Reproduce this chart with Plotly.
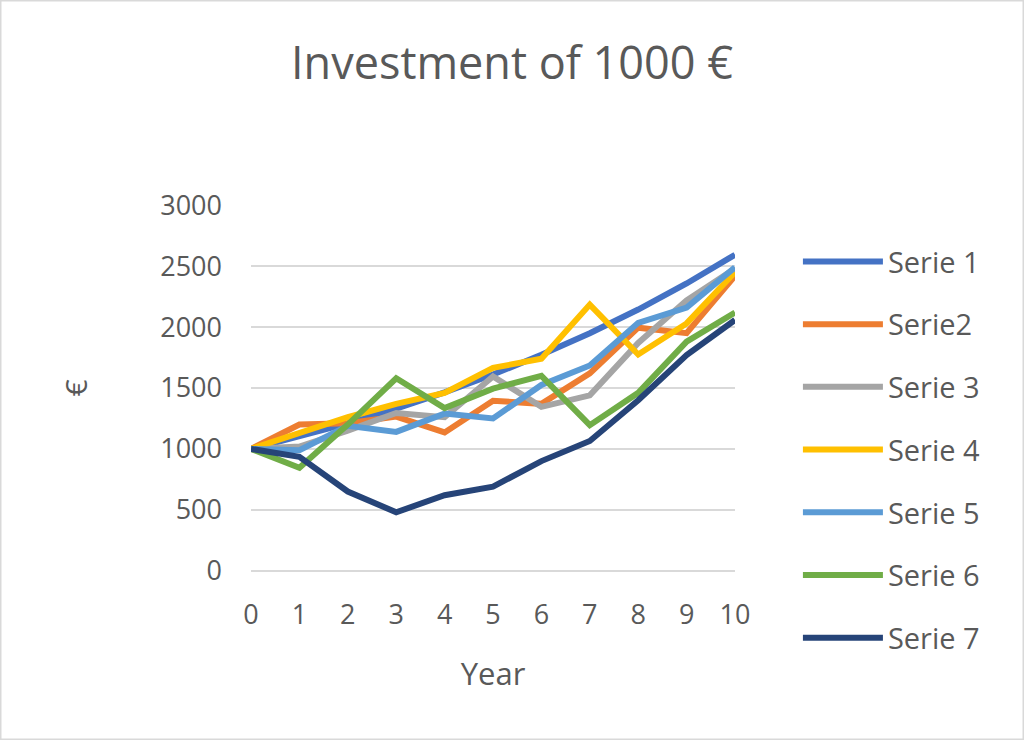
import plotly.graph_objects as go

years = [0, 1, 2, 3, 4, 5, 6, 7, 8, 9, 10]

serie1 = [1000, 1100, 1210, 1331, 1464, 1611, 1772, 1949, 2144, 2358, 2594]
serie2 = [1000, 1200, 1210, 1265, 1135, 1395, 1370, 1620, 1995, 1950, 2420]
serie3 = [1000, 1020, 1150, 1295, 1260, 1595, 1345, 1440, 1870, 2220, 2480]
serie4 = [1000, 1130, 1260, 1370, 1460, 1665, 1740, 2185, 1775, 2030, 2450]
serie5 = [1000, 990, 1190, 1140, 1290, 1250, 1525, 1685, 2035, 2160, 2490]
serie6 = [1000, 845, 1200, 1580, 1335, 1495, 1600, 1195, 1460, 1880, 2120]
serie7 = [1000, 935, 650, 480, 620, 690, 900, 1065, 1400, 1770, 2058]

names = ["Serie 1", "Serie2", "Serie 3", "Serie 4", "Serie 5", "Serie 6", "Serie 7"]
colors = ["#4472C4", "#ED7D31", "#A5A5A5", "#FFC000", "#5B9BD5", "#70AD47", "#264478"]
series = [serie1, serie2, serie3, serie4, serie5, serie6, serie7]

FONT = "Open Sans"
TXT = "#595959"

fig = go.Figure()
for i, (nm, col, vals) in enumerate(zip(names, colors, series)):
    fig.add_trace(go.Scatter(
        x=years, y=vals, mode="lines", name=nm,
        line=dict(color=col, width=6),
        legendgroup="g%d" % i,
    ))

fig.update_layout(
    width=1024, height=740,
    margin=dict(l=251, r=289, t=205, b=169),
    paper_bgcolor="white", plot_bgcolor="white",
    font=dict(family=FONT, color=TXT, size=27),
    title=dict(text="Investment of 1000 €", x=0.5, xanchor="center",
               y=0.915, yanchor="middle", yref="container",
               font=dict(family=FONT, size=45, color=TXT)),
    showlegend=True,
    legend=dict(x=1.13, xanchor="left", y=0.915, yanchor="top",
                font=dict(family=FONT, size=29, color=TXT),
                tracegroupgap=22, itemwidth=80, maxheight=700,
                bgcolor="rgba(0,0,0,0)"),
    xaxis=dict(range=[0, 10], tickmode="array", tickvals=years,
               showgrid=False, zeroline=False, showline=False,
               ticks="", ticklabelstandoff=25,
               tickfont=dict(size=27, color=TXT),
               title=dict(text="Year", font=dict(size=31, color=TXT), standoff=32)),
    yaxis=dict(range=[-2, 3002], tickvals=[0, 500, 1000, 1500, 2000, 2500, 3000],
               showgrid=True, gridcolor="#D9D9D9", gridwidth=2,
               zeroline=True, zerolinecolor="#D9D9D9", zerolinewidth=2,
               showline=False, ticks="",
               ticklabelstandoff=28,
               tickfont=dict(size=27, color=TXT),
               title=dict(text="€", font=dict(size=30, color=TXT), standoff=63)),
    shapes=[dict(type="rect", xref="paper", yref="paper",
                 x0=-251/484, x1=(1024-251)/484, y0=-169/366, y1=(740-169)/366,
                 line=dict(color="#D9D9D9", width=3), fillcolor="rgba(0,0,0,0)", layer="below")],
)

fig.write_html("out.html")
